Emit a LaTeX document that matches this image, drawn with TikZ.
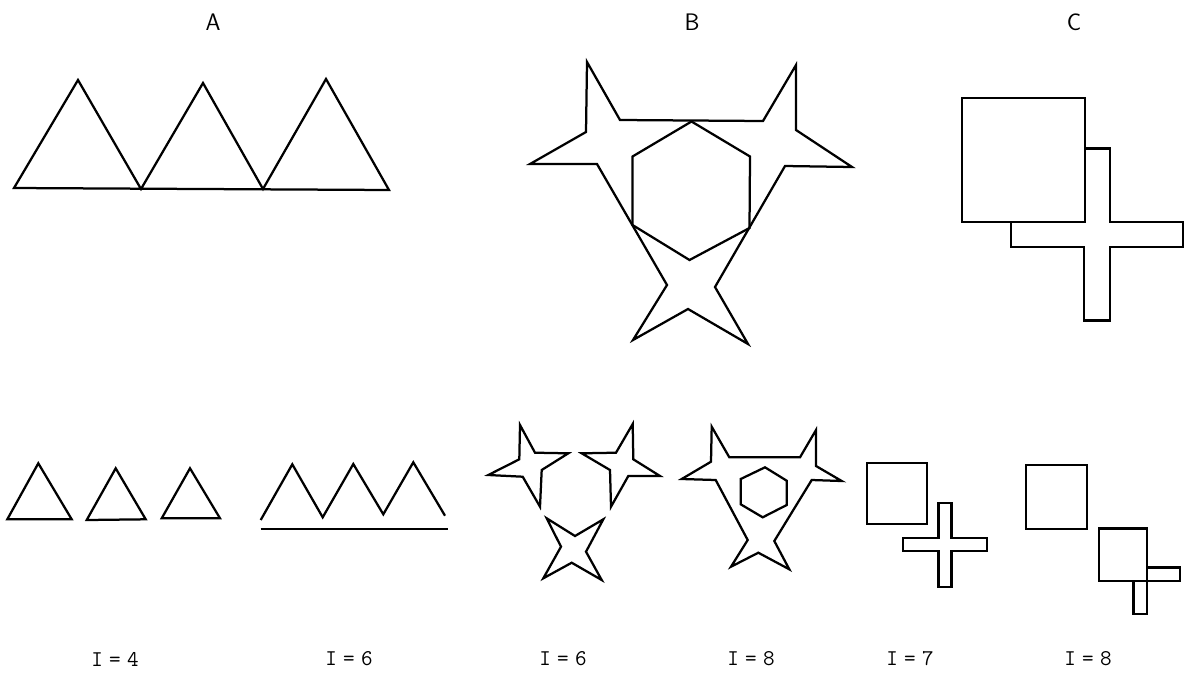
\documentclass[tikz,border=0pt]{standalone}
\usepackage{tikz}
\usetikzlibrary{calc}

\begin{document}
\begin{tikzpicture}[x=0.025cm,y=-0.025cm]

% --- STYLES ---
\tikzset{
  outline/.style={draw=black, line width=1.6pt, line join=miter},
  paneltitle/.style={font=\fontsize{17}{20}\selectfont\sffamily},
  countlabel/.style={font=\fontsize{16}{18}\selectfont\ttfamily},
}

% --- CROSS DRAWING MACRO ---
\newcommand{\plusshape}[4]{
  \begin{scope}[shift={(#1,#2)}]
    \draw[outline, fill=white] (-#4,-#3) -- (#4,-#3) -- (#4,-#4) -- (#3,-#4)
      -- (#3,#4) -- (#4,#4) -- (#4,#3) -- (-#4,#3) -- (-#4,#4) -- (-#3,#4)
      -- (-#3,-#4) -- (-#4,-#4) -- cycle;
  \end{scope}
}

\useasboundingbox (0,0) rectangle (1187,672);

% ================= TITLES =================
\node[paneltitle] (ta) at (213,22) {A};
\node[paneltitle] (tb) at (692,22) {B};
\node[paneltitle] (tc) at (1074,22) {C};

% ================= A : BIG TRIANGLES =================
\draw[outline] (14,188) -- (78,80) -- (141,189) -- (203,83) -- (263,189)
  -- (326,79) -- (389,190) -- cycle;

% ================= B : BIG STAR FIGURE =================
\draw[outline] (587,62) -- (620,120) -- (763,121) -- (796,65) -- (796,130)
  -- (852,167) -- (785,166) -- (715,287) -- (748,344) -- (688,309)
  -- (633,340) -- (667,285) -- (597,164) -- (530,164) -- (586,132) -- cycle;
\draw[outline] (691.5,121.5) -- (750,156.5) -- (749.5,228) -- (689.5,260)
  -- (632.5,225) -- (632.5,156.5) -- cycle;

% ================= C : BIG SQUARE AND CROSS =================
\plusshape{1097}{234.5}{86}{12.75}
\draw[outline, fill=white] (962,98) rectangle (1085,222);

% ================= PARTS OF A =================
\foreach \ax/\ay/\bx/\by/\cx/\cy in {
    38.3/463.3/71.7/519.3/7.3/519.3,
    115.7/468.3/145.7/519.3/86.7/520,
    190/468.3/220/518.3/161.7/518.3} {
  \draw[outline] (\ax,\ay) -- (\bx,\by) -- (\cx,\cy) -- cycle;
}
\draw[outline] (260.7,520) -- (292.3,464.3) -- (322.7,517.3) -- (353.3,464)
  -- (383.3,514.3) -- (413.3,462.3) -- (445,515.7);
\draw[outline] (260.7,529) -- (447.7,529);

% ================= PARTS OF B =================
\draw[outline] (520,425) -- (535,452.7) -- (568.3,453.3) -- (541.7,470)
  -- (540,506.7) -- (522.7,476.7) -- (488.3,475) -- (519.3,459.3) -- cycle;
\draw[outline] (632.7,424) -- (633.3,459.3) -- (660,476) -- (628.3,476)
  -- (611,506.7) -- (610,470) -- (581.7,453.3) -- (616,452.7) -- cycle;
\draw[outline] (546.7,518.3) -- (575,536) -- (603.3,519.3) -- (586,551.7)
  -- (601.7,580) -- (571.7,562.7) -- (543.3,578.3) -- (561,546.7) -- cycle;

\draw[outline] (711.7,426.7) -- (729.3,457.3) -- (800,457.3) -- (816,430)
  -- (816,466) -- (841.7,481) -- (811.7,480) -- (774.3,541) -- (789.3,569.3)
  -- (758.3,552.7) -- (731,566.7) -- (747.7,540) -- (715.7,480)
  -- (681.7,479) -- (711,461.7) -- cycle;
\draw[outline] (765,467.3) -- (786.7,480.7) -- (786.7,505) -- (762.7,517.3)
  -- (740.7,504.3) -- (740.7,479) -- cycle;

% ================= PARTS OF C =================
\draw[outline] (866.7,462.7) rectangle (927.3,524);
\plusshape{945}{544.7}{42}{6.5}

\draw[outline] (1026,465) rectangle (1087.3,529.3);
\plusshape{1140.3}{574.2}{40}{6.8}
\draw[outline, fill=white] (1099,528.5) rectangle (1147.1,581);

% ================= COUNTS =================
\node[countlabel] (n1) at (115,659) {I\;=\;4};
\node[countlabel] (n2) at (349,659) {I\;=\;6};
\node[countlabel] (n3) at (563,659) {I\;=\;6};
\node[countlabel] (n4) at (751,659) {I\;=\;8};
\node[countlabel] (n5) at (910,659) {I\;=\;7};
\node[countlabel] (n6) at (1088,659) {I\;=\;8};

\end{tikzpicture}
\end{document}
